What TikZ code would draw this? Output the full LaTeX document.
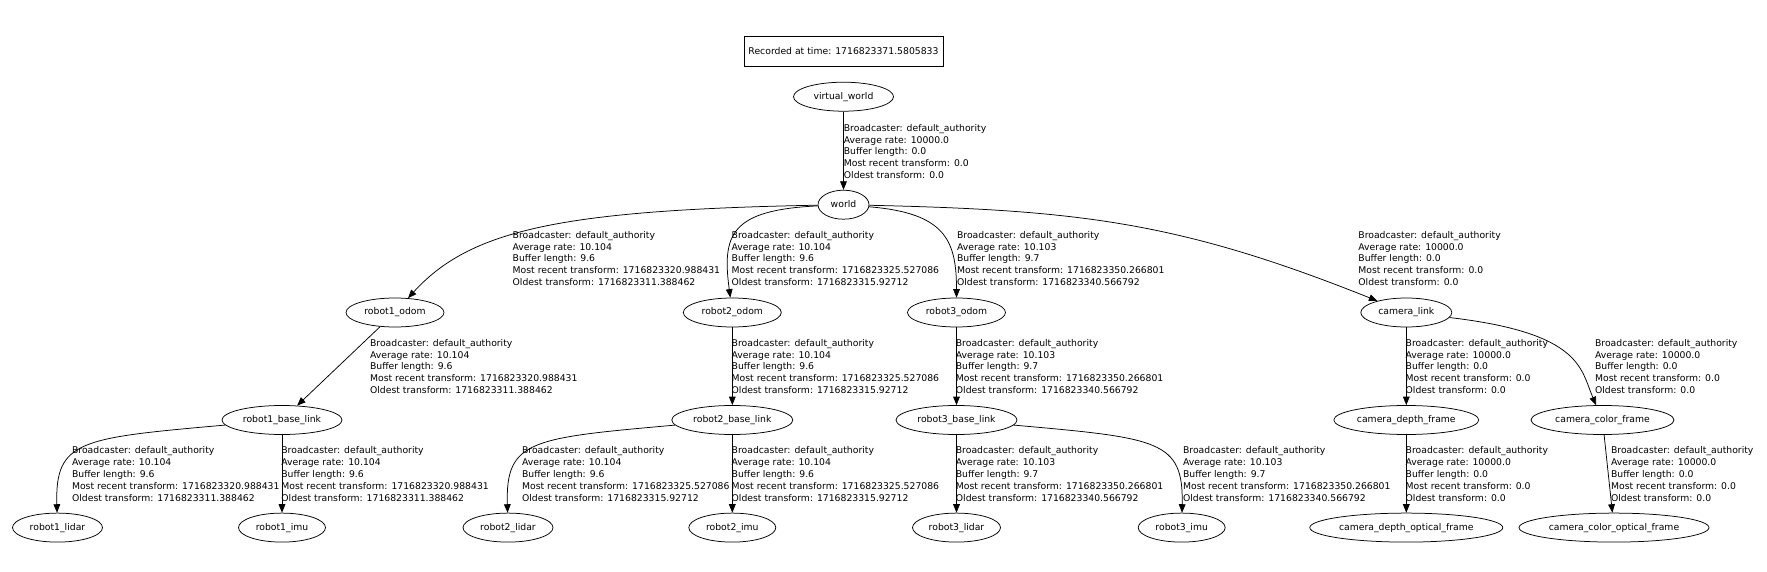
\documentclass[tikz,border=0pt]{standalone}
\usepackage{fontspec}
\setmainfont{DejaVu Sans}
\usetikzlibrary{shapes.geometric,arrows.meta}

\newcommand{\tffont}{\fontsize{9.27}{11.9}\selectfont}
\newcommand{\tfinfo}[4]{Broadcaster: default\_authority\\Average rate: #1\\Buffer length: #2\\Most recent transform: #3\\Oldest transform: #4}

\begin{document}
\begin{tikzpicture}[x=1pt,y=-1pt,
    every node/.style={font=\tffont},
    frame/.style={draw,ellipse,minimum height=29pt,inner sep=1pt,text height=6.8pt,text depth=2pt,line width=0.75pt},
    edgeinfo/.style={anchor=north west,align=left,inner sep=0pt},
    >={Triangle[length=8.5pt,width=6.7pt]},
    line width=0.75pt]
  % Page
  \fill[white] (0,0) rectangle (1767,572);

  % Time stamp
  \node[draw,minimum width=199pt,minimum height=29.3pt,inner sep=0pt] (stamp) at (843.5,51.3) {Recorded at time: 1716823371.5805833};

  % Frames
  \node[frame,minimum width=100pt] (vworld) at (843.5,96.7) {virtual\_world};
  \node[frame,minimum width=51pt] (world) at (843.5,204.7) {world};

  \node[frame,minimum width=98pt] (r1odom) at (395,312.5) {robot1\_odom};
  \node[frame,minimum width=98pt] (r2odom) at (732.3,312.5) {robot2\_odom};
  \node[frame,minimum width=98pt] (r3odom) at (956.5,312.5) {robot3\_odom};
  \node[frame,minimum width=91pt] (camlink) at (1406.3,312.5) {camera\_link};

  \node[frame,minimum width=120pt] (r1base) at (282,420) {robot1\_base\_link};
  \node[frame,minimum width=121pt] (r2base) at (732.3,420) {robot2\_base\_link};
  \node[frame,minimum width=121pt] (r3base) at (956.5,420) {robot3\_base\_link};
  \node[frame,minimum width=145pt] (depth) at (1406.3,420) {camera\_depth\_frame};
  \node[frame,minimum width=143pt] (color) at (1602.5,420) {camera\_color\_frame};

  \node[frame,minimum width=90pt] (r1lidar) at (57.5,527.6) {robot1\_lidar};
  \node[frame,minimum width=87pt] (r1imu) at (282,527.6) {robot1\_imu};
  \node[frame,minimum width=90pt] (r2lidar) at (508,527.6) {robot2\_lidar};
  \node[frame,minimum width=87pt] (r2imu) at (732.3,527.6) {robot2\_imu};
  \node[frame,minimum width=88pt] (r3lidar) at (956.5,527.6) {robot3\_lidar};
  \node[frame,minimum width=87pt] (r3imu) at (1181.7,527.6) {robot3\_imu};
  \node[frame,minimum width=193pt] (depthopt) at (1406.3,527.6) {camera\_depth\_optical\_frame};
  \node[frame,minimum width=190pt] (coloropt) at (1614,527.6) {camera\_color\_optical\_frame};

  % Transforms
  \draw[->] (vworld) -- (world);
  \draw[->] (world) .. controls (560,210) and (470,230) .. (r1odom);
  \draw[->] (world) .. controls (730,210) and (722,235) .. (r2odom);
  \draw[->] (world) .. controls (945,213) and (956.5,240) .. (r3odom);
  \draw[->] (world) .. controls (1080,210) and (1180,222) .. (camlink);

  \draw[->] (r1odom) -- (r1base);
  \draw[->] (r2odom) -- (r2base);
  \draw[->] (r3odom) -- (r3base);
  \draw[->] (camlink) -- (depth);
  \draw[->] (camlink) .. controls (1582,333) and (1580.6,369) .. (color);

  \draw[->] (r1base) .. controls (80,438) and (55,440) .. (r1lidar);
  \draw[->] (r1base) -- (r1imu);
  \draw[->] (r2base) .. controls (530.5,438) and (505.5,440) .. (r2lidar);
  \draw[->] (r2base) -- (r2imu);
  \draw[->] (r3base) -- (r3lidar);
  \draw[->] (r3base) .. controls (1158.5,438) and (1183.5,440) .. (r3imu);
  \draw[->] (depth) -- (depthopt);
  \draw[->] (color) -- (coloropt);

  % Transform info
  \node[edgeinfo] (i0) at (843.5,123.7) {\tfinfo{10000.0}{0.0}{0.0}{0.0}};
  \node[edgeinfo] (i1) at (512.3,230.7) {\tfinfo{10.104}{9.6}{1716823320.988431}{1716823311.388462}};
  \node[edgeinfo] (i2) at (731.3,230.7) {\tfinfo{10.104}{9.6}{1716823325.527086}{1716823315.92712}};
  \node[edgeinfo] (i3) at (956.7,230.7) {\tfinfo{10.103}{9.7}{1716823350.266801}{1716823340.566792}};
  \node[edgeinfo] (i4) at (1358,230.7) {\tfinfo{10000.0}{0.0}{0.0}{0.0}};

  \node[edgeinfo] (i5) at (369.7,338.7) {\tfinfo{10.104}{9.6}{1716823320.988431}{1716823311.388462}};
  \node[edgeinfo] (i6) at (731.3,338.7) {\tfinfo{10.104}{9.6}{1716823325.527086}{1716823315.92712}};
  \node[edgeinfo] (i7) at (955.5,338.7) {\tfinfo{10.103}{9.7}{1716823350.266801}{1716823340.566792}};
  \node[edgeinfo] (i8) at (1405.3,338.7) {\tfinfo{10000.0}{0.0}{0.0}{0.0}};
  \node[edgeinfo] (i9) at (1594.7,338.7) {\tfinfo{10000.0}{0.0}{0.0}{0.0}};

  \node[edgeinfo] (i10) at (71.7,446.4) {\tfinfo{10.104}{9.6}{1716823320.988431}{1716823311.388462}};
  \node[edgeinfo] (i11) at (281,446.4) {\tfinfo{10.104}{9.6}{1716823320.988431}{1716823311.388462}};
  \node[edgeinfo] (i12) at (521.7,446.4) {\tfinfo{10.104}{9.6}{1716823325.527086}{1716823315.92712}};
  \node[edgeinfo] (i13) at (731.3,446.4) {\tfinfo{10.104}{9.6}{1716823325.527086}{1716823315.92712}};
  \node[edgeinfo] (i14) at (955.5,446.4) {\tfinfo{10.103}{9.7}{1716823350.266801}{1716823340.566792}};
  \node[edgeinfo] (i15) at (1182.7,446.4) {\tfinfo{10.103}{9.7}{1716823350.266801}{1716823340.566792}};
  \node[edgeinfo] (i16) at (1405.3,446.4) {\tfinfo{10000.0}{0.0}{0.0}{0.0}};
  \node[edgeinfo] (i17) at (1610.7,446.4) {\tfinfo{10000.0}{0.0}{0.0}{0.0}};
\end{tikzpicture}
\end{document}
